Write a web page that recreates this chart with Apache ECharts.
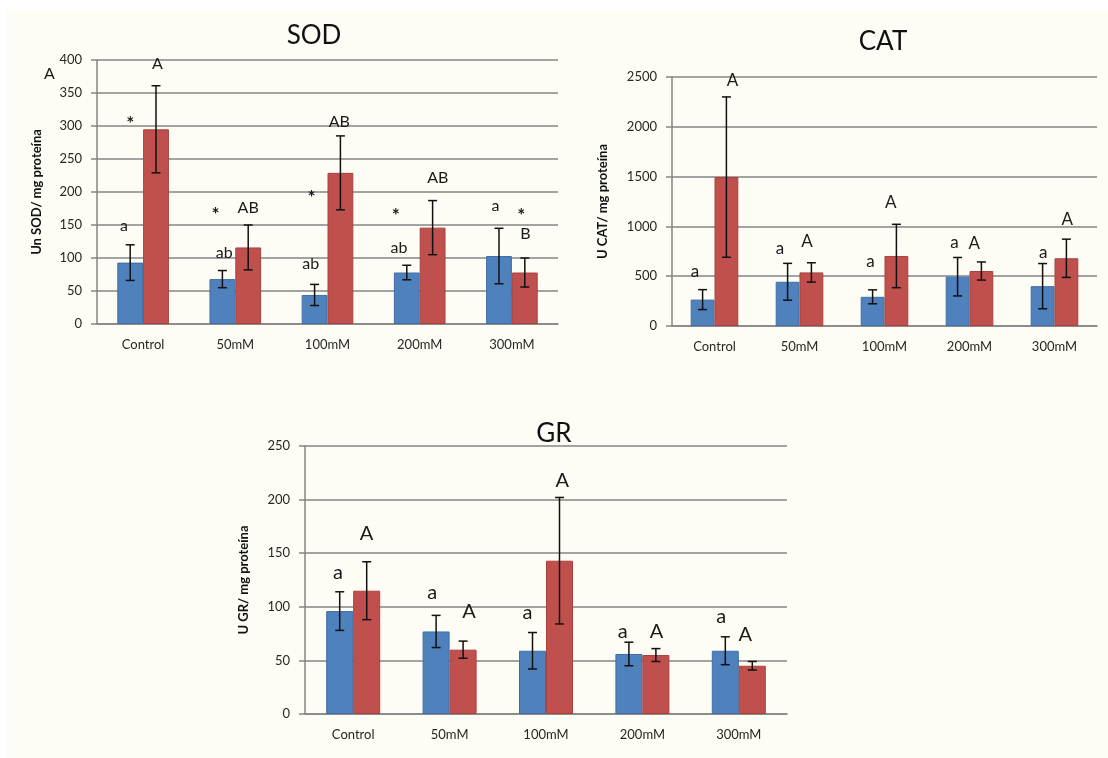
<!DOCTYPE html>
<html>
<head>
<meta charset="utf-8">
<title>SOD, CAT, GR</title>
<script src="https://cdn.jsdelivr.net/npm/echarts@6/dist/echarts.min.js"></script>
<style>
  html, body { margin: 0; padding: 0; background: #ffffff; }
  #bg { position: absolute; left: 7px; top: 9px; right: 0; bottom: 0; background: #fdfdf5; }
  #chart { position: absolute; left: 0; top: 0; width: 1108px; height: 758px; }
</style>
</head>
<body>
<div id="bg"></div>
<div id="chart"></div>
<script>
const categories = ['Control', '50mM', '100mM', '200mM', '300mM']

// SOD (Un SOD / mg proteína)
const sodBlue = [93, 68, 44, 78, 103]
const sodBlueErr = [27, 13, 16, 11, 42]
const sodRed = [295, 116, 229, 146, 78]
const sodRedErr = [66, 34, 56, 41, 22]

// CAT (U CAT / mg proteína)
const catBlue = [265, 444, 293, 495, 400]
const catBlueErr = [100, 185, 70, 193, 227]
const catRed = [1495, 538, 703, 552, 680]
const catRedErr = [805, 97, 318, 91, 192]

// GR (U GR / mg proteína)
const grBlue = [96, 77, 59, 56, 59]
const grBlueErr = [18, 15, 17, 11, 13]
const grRed = [115, 60, 143, 55, 45]
const grRedErr = [27, 8, 59, 6, 4]

// significance letters: [category, shift in bar widths from centre, value, text]
const sodMarks = [
  [0, -0.74, 149, 'a'], [0, -0.5, 308, '*'], [0, 0.55, 394, 'A'],
  [1, -0.77, 170, '*'], [1, -0.43, 108, 'ab'], [1, 0.5, 176, 'AB'],
  [2, -0.62, 195, '*'], [2, -0.65, 91, 'ab'], [2, 0.46, 306, 'AB'],
  [3, -0.93, 168, '*'], [3, -0.8, 116, 'ab'], [3, 0.7, 221, 'AB'],
  [4, -0.64, 179, 'a'], [4, 0.36, 168, '*'], [4, 0.52, 136, 'B']
]
const catMarks = [
  [0, -0.82, 548, 'a'], [0, 0.76, 2463, 'A'],
  [1, -0.82, 774, 'a'], [1, 0.32, 845, 'A'],
  [2, -0.59, 646, 'a'], [2, 0.26, 1235, 'A'],
  [3, -0.63, 834, 'a'], [3, 0.2, 828, 'A'],
  [4, -0.47, 740, 'a'], [4, 0.54, 1073, 'A']
]
const grMarks = [
  [0, -0.56, 132, 'a'], [0, 0.49, 168, 'A'],
  [1, -0.64, 113, 'a'], [1, 0.72, 96, 'A'],
  [2, -0.69, 95, 'a'], [2, 0.6, 218, 'A'],
  [3, -0.73, 77, 'a'], [3, 0.52, 77, 'A'],
  [4, -0.65, 91, 'a'], [4, 0.24, 74, 'A']
]

const FONT = 'Lato, "Open Sans", sans-serif'
const GRID_GRAY = '#858585'
const BAR_SHARE = 0.28 // each bar's share of the category band

const blueStyle = { color: '#4f81bd', borderColor: '#3f6ea6', borderWidth: 1 }
const redStyle = { color: '#c0504d', borderColor: '#a9403d', borderWidth: 1 }

const charts = [
  { title: 'SOD', name: 'Un SOD/ mg proteína', max: 400, interval: 50,
    grid: { left: 97, top: 60, width: 461, height: 264 }, titlePos: [309, 18], nameGap: 54,
    blue: sodBlue, blueErr: sodBlueErr, red: sodRed, redErr: sodRedErr, marks: sodMarks, markSize: 16 },
  { title: 'CAT', name: 'U CAT/ mg proteína', max: 2500, interval: 500,
    grid: { left: 672, top: 77, width: 425, height: 249 }, titlePos: [878, 24], nameGap: 63,
    blue: catBlue, blueErr: catBlueErr, red: catRed, redErr: catRedErr, marks: catMarks, markSize: 17 },
  { title: 'GR', name: 'U GR/ mg proteína', max: 250, interval: 50,
    grid: { left: 305, top: 446, width: 482, height: 268 }, titlePos: [549, 416], nameGap: 55,
    blue: grBlue, blueErr: grBlueErr, red: grRed, redErr: grRedErr, marks: grMarks, markSize: 20 }
]

function errorBars(idx, means, errs, side) {
  return {
    type: 'custom',
    xAxisIndex: idx,
    yAxisIndex: idx,
    z: 5,
    silent: true,
    data: means.map((m, i) => [i, m - errs[i], m + errs[i]]),
    renderItem(params, api) {
      const band = api.size([1, 0])[0]
      const x = api.coord([api.value(0), 0])[0] + side * band * BAR_SHARE / 2
      const lo = api.coord([api.value(0), api.value(1)])[1]
      const hi = api.coord([api.value(0), api.value(2)])[1]
      const cap = 4.5
      const style = { stroke: '#111111', lineWidth: 1.5 }
      return {
        type: 'group',
        children: [
          { type: 'line', shape: { x1: x, y1: lo, x2: x, y2: hi }, style },
          { type: 'line', shape: { x1: x - cap, y1: lo, x2: x + cap, y2: lo }, style },
          { type: 'line', shape: { x1: x - cap, y1: hi, x2: x + cap, y2: hi }, style }
        ]
      }
    }
  }
}

function letters(idx, marks, size) {
  return {
    type: 'custom',
    xAxisIndex: idx,
    yAxisIndex: idx,
    z: 6,
    silent: true,
    data: marks.map(m => [m[0], m[2]]),
    renderItem(params, api) {
      const m = marks[params.dataIndex]
      const band = api.size([1, 0])[0]
      const p = api.coord([api.value(0), api.value(1)])
      const isStar = m[3] === '*'
      return {
        type: 'text',
        x: p[0] + m[1] * band * BAR_SHARE,
        y: p[1] + (isStar ? 3 : 0),
        style: {
          text: m[3],
          fill: '#1a1a1a',
          font: (isStar ? 'bold 19px ' : size + 'px ') + FONT,
          align: 'center',
          verticalAlign: 'middle'
        }
      }
    }
  }
}

const option = {
  animation: false,
  textStyle: { fontFamily: FONT },
  title: charts.map(c => ({
    text: c.title,
    left: c.titlePos[0],
    top: c.titlePos[1],
    textAlign: 'center',
    textStyle: { fontSize: 26, fontWeight: 'normal', color: '#111111', fontFamily: FONT }
  })),
  grid: charts.map(c => c.grid),
  xAxis: charts.map((c, i) => ({
    type: 'category',
    gridIndex: i,
    data: categories,
    axisLine: { show: true, lineStyle: { color: GRID_GRAY, width: 1.5 } },
    axisTick: { show: false },
    axisLabel: { color: '#262626', fontSize: 13, margin: 14, fontFamily: FONT }
  })),
  yAxis: charts.map((c, i) => ({
    type: 'value',
    gridIndex: i,
    min: 0,
    max: c.max,
    interval: c.interval,
    name: c.name,
    nameLocation: 'middle',
    nameRotate: 90,
    nameGap: c.nameGap,
    nameTextStyle: { fontSize: 13, fontWeight: 'bold', color: '#111111', fontFamily: FONT },
    axisLine: { show: true, lineStyle: { color: GRID_GRAY, width: 1.5 } },
    axisTick: { show: true, length: 6, lineStyle: { color: GRID_GRAY, width: 1.5 } },
    axisLabel: { color: '#262626', fontSize: 13, margin: 15, fontFamily: FONT, formatter: v => String(v) },
    splitLine: { show: true, lineStyle: { color: GRID_GRAY, width: 1.5 } }
  })),
  series: charts.flatMap((c, i) => [
    {
      type: 'bar', xAxisIndex: i, yAxisIndex: i, data: c.blue,
      barGap: '0%', barCategoryGap: '44%', itemStyle: blueStyle
    },
    {
      type: 'bar', xAxisIndex: i, yAxisIndex: i, data: c.red,
      barGap: '0%', barCategoryGap: '44%', itemStyle: redStyle
    },
    errorBars(i, c.blue, c.blueErr, -1),
    errorBars(i, c.red, c.redErr, 1),
    letters(i, c.marks, c.markSize)
  ]),
  graphic: [
    {
      type: 'text', left: 44, top: 66,
      style: { text: 'A', font: '16px ' + FONT, fill: '#1a1a1a' }
    }
  ]
}

const chart = echarts.init(document.getElementById('chart'), null, { renderer: 'canvas' })
chart.setOption(option)
window.addEventListener('resize', () => chart.resize())
</script>
</body>
</html>
